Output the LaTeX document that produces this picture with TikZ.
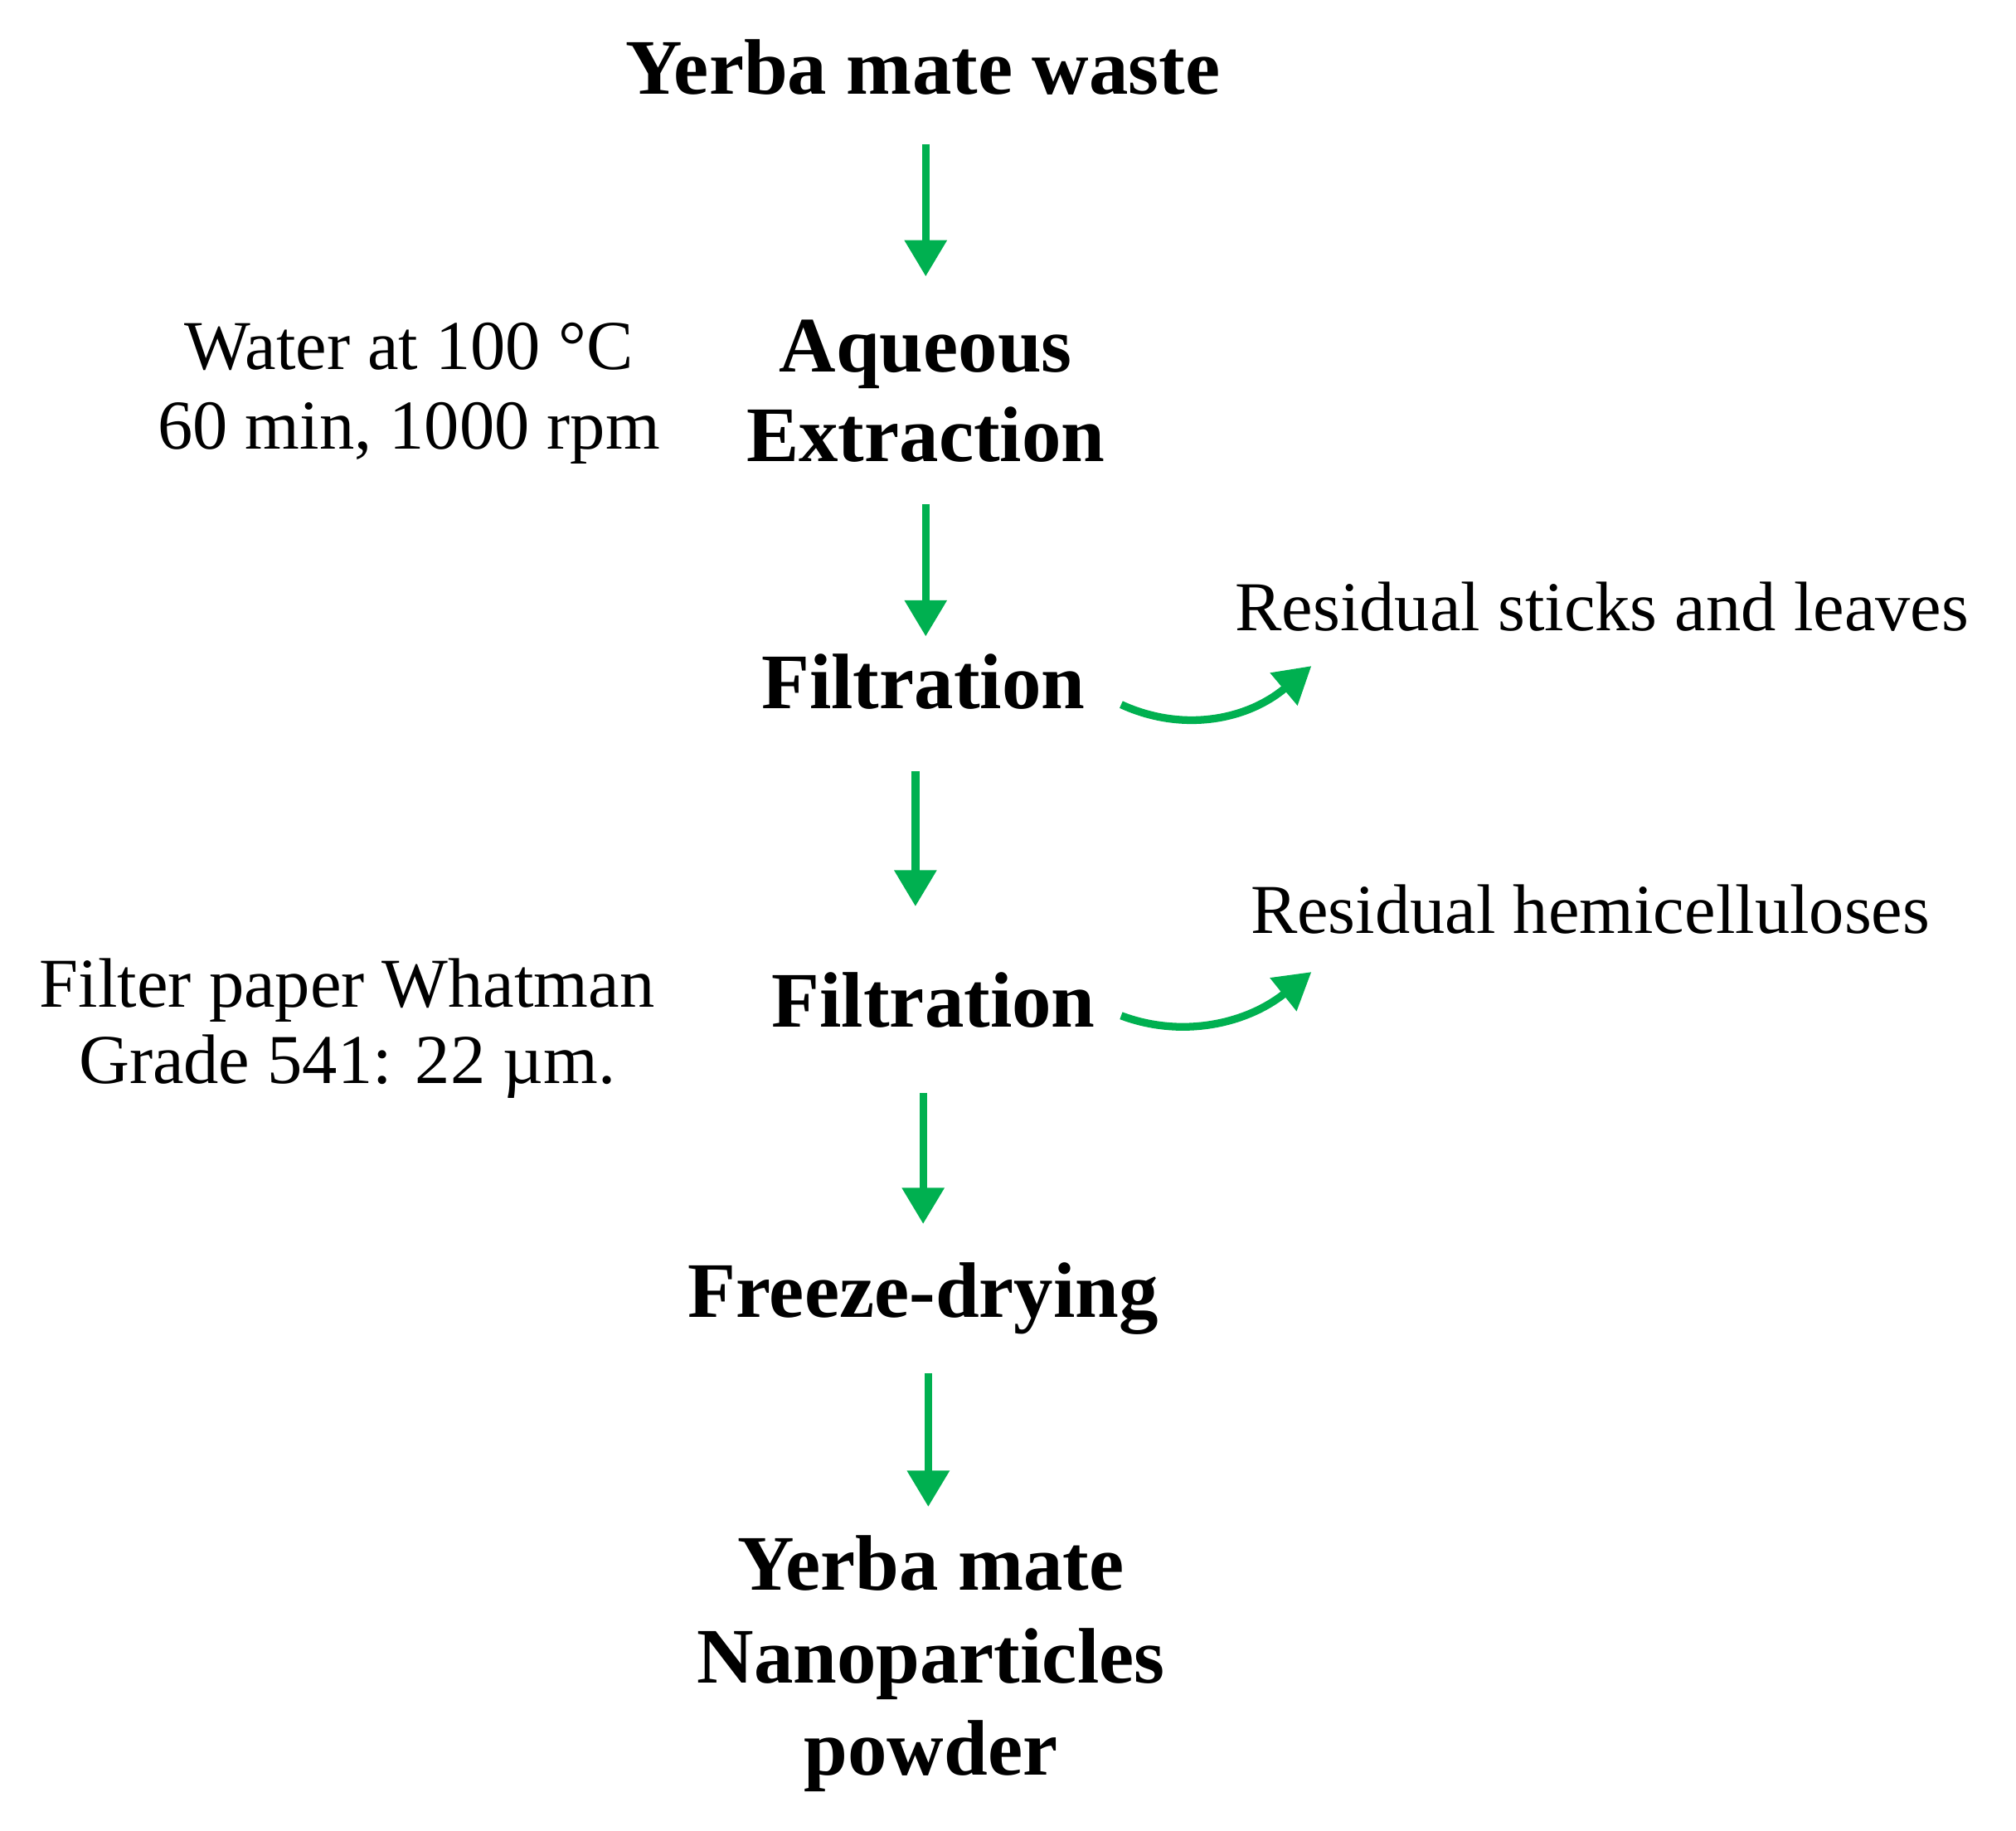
\documentclass[tikz,border=0pt]{standalone}
\usepackage{fontspec}
\setmainfont{Liberation Serif}
\usetikzlibrary{arrows.meta}
\definecolor{arrg}{RGB}{0,176,80}
\begin{document}
\begin{tikzpicture}[x=0.01cm,y=-0.01cm,
  bold/.style={font=\fontsize{17.4}{19.8}\selectfont\bfseries,align=center,inner sep=0pt},
  note/.style={font=\fontsize{15.5}{17.6}\selectfont,align=center,inner sep=0pt},
  flow/.style={draw=arrg,line width=1.7pt,-{Triangle[length=8pt,width=9pt]}}]
\useasboundingbox (0,0) rectangle (1568,1424);
\node[bold] (t) at (718,52) {Yerba mate waste};
\node[bold] (aq) at (720,304) {Aqueous\\Extraction};
\node[note] (w) at (318,306) {Water at 100 °C\\60 min, 1000 rpm};
\node[bold] (f1) at (718,530) {Filtration};
\node[note,anchor=west] (r1) at (960,472) {Residual sticks and leaves};
\node[bold] (f2) at (726,778) {Filtration};
\node[note,anchor=west] (r2) at (972,707) {Residual hemicelluloses};
\node[note,font=\fontsize{15.5}{17}\selectfont] (fp) at (270,800) {Filter paper Whatman\\Grade 541: 22 µm.};
\node[bold,font=\fontsize{17.4}{20.5}\selectfont\bfseries] (yn) at (724,1294) {Yerba mate\\Nanoparticles\\powder};
\node[bold] (fd) at (718,1010) {Freeze-drying};
\coordinate (a1s) at (720,112); \coordinate (a1e) at (720,215);
\coordinate (a2s) at (720,392); \coordinate (a2e) at (720,495);
\coordinate (a3s) at (712,600); \coordinate (a3e) at (712,705);
\coordinate (a4s) at (718,850); \coordinate (a4e) at (718,952);
\coordinate (a5s) at (722,1068); \coordinate (a5e) at (722,1172);
\coordinate (c1s) at (872,548); \coordinate (c1e) at (1020,518);
\coordinate (c2s) at (872,790); \coordinate (c2e) at (1020,756);
\foreach \s/\e in {a1s/a1e,a2s/a2e,a3s/a3e,a4s/a4e,a5s/a5e}
  \draw[flow] (\s) -- (\e);
\draw[flow] (c1s) .. controls (920,570) and (970,560) .. (c1e);
\draw[flow] (c2s) .. controls (920,808) and (970,796) .. (c2e);
\end{tikzpicture}
\end{document}
